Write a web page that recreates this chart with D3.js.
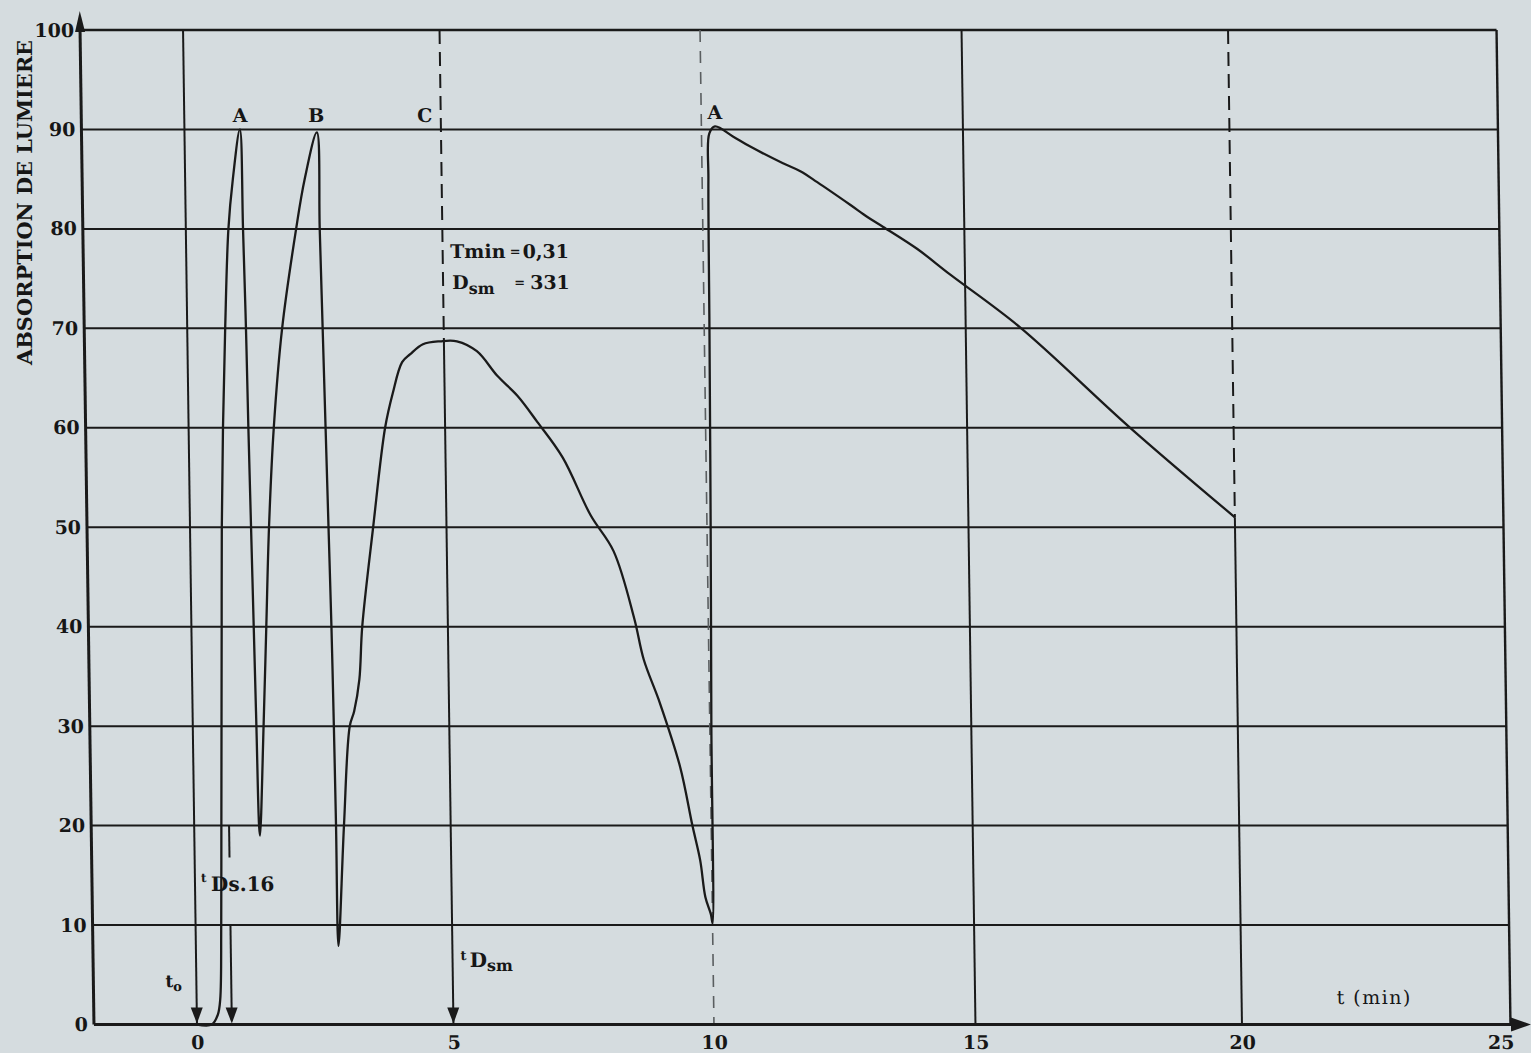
<!DOCTYPE html>
<html>
<head>
<meta charset="utf-8">
<script src="https://cdn.jsdelivr.net/npm/d3@7"></script>
<style>
  html, body { margin: 0; padding: 0; background: #d5dcdf; }
  svg { display: block; }
  text { font-family: "DejaVu Serif", "Liberation Serif", serif; fill: #161616; }
</style>
</head>
<body>
<svg id="chart" width="1531" height="1053"></svg>
<script>
// Light absorption trace (%) against time (min): three smoke cycles A, B, C,
// then a second run A starting at 10 min.
const timeMin = [
  0, 0.29, 0.41, 0.46, 0.50, 0.53, 0.56, 0.59, 0.62, 0.67, 0.74, 0.83, 0.93, 1.08,
  1.115, 1.145, 1.165, 1.19, 1.215, 1.24, 1.265, 1.28,
  1.38, 1.46, 1.54, 1.66, 1.85, 2.15, 2.33, 2.58,
  2.61, 2.64, 2.67, 2.70, 2.73, 2.75, 2.765, 2.78,
  2.92, 3.06, 3.15, 3.26, 3.33, 3.57, 3.83, 3.99, 4.18, 4.34, 4.59, 4.93, 5.25, 5.63,
  6.02, 6.40, 6.77, 7.25, 7.77, 8.20, 8.58, 8.75, 9.05, 9.42, 9.64, 9.78, 9.87, 9.97, 10.0,
  10.03, 10.07, 10.10, 10.12, 10.15, 10.26, 10.60, 10.92, 11.55, 11.88, 12.20, 12.83,
  13.15, 13.45, 14.09, 14.72, 16.02, 18.06, 20.0
];
const absorption = [
  0, 0, 1.0, 2.5, 10, 20, 30, 40, 50, 60, 70, 80, 85, 90,
  80, 70, 60, 50, 40, 30, 20, 19,
  30, 40, 50, 60, 70, 80, 85, 89.7,
  80, 70, 60, 50, 40, 30, 20, 7.9,
  20, 30, 31.5, 34.7, 40, 50, 60, 63.5, 66.6, 67.4, 68.4, 68.7, 68.7, 67.7,
  65.2, 63.2, 60.6, 57.0, 51.2, 47.6, 40.8, 36.7, 32.3, 25.9, 20.0, 16.5, 12.8, 11.1, 10.2,
  30, 50, 70, 85, 89.6, 90.3, 89.3, 88.3, 86.6, 85.8, 84.7, 82.4,
  81.2, 80.2, 78.0, 75.4, 70.1, 60, 51
];

const xTickValues = [0, 5, 10, 15, 20, 25];
const yTickValues = [0, 10, 20, 30, 40, 50, 60, 70, 80, 90, 100];
const xGridValues = [0, 5, 10, 15, 20];

const peakNames = ["A", "B", "C", "A"];
const peakTimes = [1.09, 2.57, 4.69, 10.26];
const peakValues = [90, 90, 90, 90.3];

// marker times: t0, tDs.16, tDsm
const markerTimes = [0, 0.68, 5];

const W = 1531, H = 1053;
const ink = "#1a1a1a";

const svg = d3.select("#chart");
// time axis is slightly stretched towards the right, as on the recorder paper
const x = d3.scaleLinear()
  .domain([-2, 0, 5, 10, 15, 20, 25])
  .range([87, 190, 446.5, 707, 968.5, 1235, 1503.5]);
const y = d3.scaleLinear().domain([0, 100]).range([1024.5, 30]);

svg.append("rect").attr("width", W).attr("height", H).attr("fill", "#d5dcdf");

// the sheet leans slightly: verticals drift right towards the bottom
const lean = 0.014, yMid = 527;
const root = svg.append("g")
  .attr("transform", `translate(${-lean * yMid},0) skewX(${Math.atan(lean) * 180 / Math.PI})`);

const pts = timeMin.map((t, i) => [t, absorption[i]]);
const cPeak = d3.max(pts.filter(p => p[0] > 3 && p[0] < 8), p => p[1]);
const endValue = absorption[absorption.length - 1];

// horizontal grid
const grid = root.append("g").attr("stroke", ink).attr("fill", "none");
grid.selectAll("line.h")
  .data(yTickValues.filter(v => v > 0))
  .join("line")
  .attr("class", "h")
  .attr("x1", x(-2)).attr("x2", x(25))
  .attr("y1", d => y(d)).attr("y2", d => y(d))
  .attr("stroke-width", d => d === 100 ? 2.4 : 2);

// vertical grid: dashed above the curve at 5 and 20 min, light dashes at 10 min
const vSegments = [];
xGridValues.forEach(t => {
  if (t === 5) {
    vSegments.push({ t, from: 100, to: cPeak, dash: true });
    vSegments.push({ t, from: cPeak, to: 0, dash: false });
  } else if (t === 20) {
    vSegments.push({ t, from: 100, to: endValue, dash: true });
    vSegments.push({ t, from: endValue, to: 0, dash: false });
  } else if (t === 10) {
    vSegments.push({ t, from: 100, to: 0, dash: true, light: true });
  } else {
    vSegments.push({ t, from: 100, to: 0, dash: false });
  }
});
vSegments.push({ t: 25, from: 100, to: 0, dash: false });

grid.selectAll("line.v")
  .data(vSegments)
  .join("line")
  .attr("class", "v")
  .attr("x1", d => x(d.t)).attr("x2", d => x(d.t))
  .attr("y1", d => y(d.from)).attr("y2", d => y(d.to))
  .attr("stroke", d => d.light ? "#5a5e60" : ink)
  .attr("stroke-width", d => d.light ? 1.6 : (d.t === 25 ? 2.4 : 2))
  .attr("stroke-dasharray", d => d.dash ? (d.light ? "12 9" : "14 8") : null);

// axis lines with arrows
root.append("line")
  .attr("x1", x(-2)).attr("x2", x(-2))
  .attr("y1", y(0)).attr("y2", 22)
  .attr("stroke", ink).attr("stroke-width", 3);
root.append("path")
  .attr("d", d3.line()([[x(-2) - 5, 32], [x(-2), 11], [x(-2) + 5, 32]]) + "Z")
  .attr("fill", ink);

const axisEnd = 1524;
root.append("line")
  .attr("x1", x(-2)).attr("x2", axisEnd - 12)
  .attr("y1", y(0)).attr("y2", y(0))
  .attr("stroke", ink).attr("stroke-width", 3);
root.append("path")
  .attr("d", d3.line()([[axisEnd - 20, y(0) - 7], [axisEnd, y(0)], [axisEnd - 20, y(0) + 7]]) + "Z")
  .attr("fill", ink);

// tick labels via axes
const yAxis = root.append("g")
  .attr("transform", `translate(${x(-2)},0)`)
  .call(d3.axisLeft(y).tickValues(yTickValues).tickSize(0).tickPadding(6));
yAxis.select(".domain").remove();
yAxis.selectAll("text")
  .attr("font-family", "DejaVu Serif").attr("font-weight", "bold")
  .attr("font-size", 19).attr("fill", "#161616");

const xAxis = root.append("g")
  .attr("transform", `translate(0,${y(0)})`)
  .call(d3.axisBottom(x).tickValues(xTickValues).tickSize(0).tickPadding(11));
xAxis.select(".domain").remove();
xAxis.selectAll("text")
  .attr("font-family", "DejaVu Serif").attr("font-weight", "bold")
  .attr("font-size", 19).attr("fill", "#161616")
  .attr("dx", d => d === 25 ? -10 : 0);

// y axis title
svg.append("text")
  .attr("transform", `translate(32,${(40 + 365) / 2}) rotate(-90)`)
  .attr("text-anchor", "middle")
  .attr("font-weight", "bold")
  .attr("font-size", 21)
  .attr("textLength", 325)
  .attr("lengthAdjust", "spacingAndGlyphs")
  .text("ABSORPTION DE LUMIERE");

// tDs.16 marker: short stub above its label and arrow below
root.append("line")
  .attr("x1", x(markerTimes[1])).attr("x2", x(markerTimes[1]))
  .attr("y1", y(20)).attr("y2", y(16.8))
  .attr("stroke", ink).attr("stroke-width", 2);
root.append("line")
  .attr("x1", x(markerTimes[1])).attr("x2", x(markerTimes[1]))
  .attr("y1", y(10)).attr("y2", y(0) - 4)
  .attr("stroke", ink).attr("stroke-width", 2);

// arrow heads on the time axis
root.append("g").selectAll("path")
  .data(markerTimes)
  .join("path")
  .attr("d", t => {
    const cx = x(t), by = y(0) - 1;
    return d3.line()([[cx - 6, by - 16], [cx, by], [cx + 6, by - 16]]) + "Z";
  })
  .attr("fill", ink);

// the recorded trace
root.append("path")
  .datum(pts)
  .attr("d", d3.line().x(d => x(d[0])).y(d => y(d[1])).curve(d3.curveCatmullRom.alpha(0.5)))
  .attr("fill", "none")
  .attr("stroke", ink)
  .attr("stroke-width", 2.3)
  .attr("stroke-linejoin", "round");

// peak letters
root.append("g").selectAll("text")
  .data(peakNames)
  .join("text")
  .attr("x", (d, i) => x(peakTimes[i]))
  .attr("y", (d, i) => y(peakValues[i]) - 7)
  .attr("text-anchor", "middle")
  .attr("font-weight", "bold")
  .attr("font-size", 19)
  .text(d => d);

// annotations
const ann = root.append("g").attr("font-weight", "bold");

const tmin = ann.append("text").attr("x", x(5) + 7.5).attr("y", 258).attr("font-size", 19);
tmin.append("tspan").text("Tmin");
tmin.append("tspan").attr("x", x(5) + 67).attr("font-size", 13).attr("dy", -2).text("=");
tmin.append("tspan").attr("x", x(5) + 80).attr("dy", 2).text("0,31");

const dsm = ann.append("text").attr("x", x(5) + 9).attr("y", 289).attr("font-size", 19);
dsm.append("tspan").text("D");
dsm.append("tspan").attr("font-size", 16).attr("dy", 5).text("sm");
dsm.append("tspan").attr("x", x(5) + 71).attr("font-size", 13).attr("dy", -7).text("=");
dsm.append("tspan").attr("x", x(5) + 87).attr("dy", 2).text("331");

const t0 = ann.append("text").attr("x", x(0) - 31).attr("y", y(0) - 37).attr("font-size", 17);
t0.append("tspan").text("t");
t0.append("tspan").attr("font-size", 13).attr("dy", 4).text("o");

const tds = ann.append("text").attr("x", x(0) + 6).attr("y", y(0) - 133).attr("font-size", 20);
tds.append("tspan").attr("font-size", 12).attr("dy", -9).text("t");
tds.append("tspan").attr("x", x(0) + 16).attr("dy", 9).text("Ds.16");

const tdsm = ann.append("text").attr("x", x(5) + 8).attr("y", y(0) - 57).attr("font-size", 20);
tdsm.append("tspan").attr("font-size", 13).attr("dy", -7).text("t");
tdsm.append("tspan").attr("x", x(5) + 17).attr("dy", 7).text("D");
tdsm.append("tspan").attr("font-size", 16).attr("dy", 4).text("sm");

root.append("text")
  .attr("x", 1330).attr("y", 1004)
  .attr("font-size", 19)
  .attr("letter-spacing", 1.5)
  .text("t (min)");
</script>
</body>
</html>
